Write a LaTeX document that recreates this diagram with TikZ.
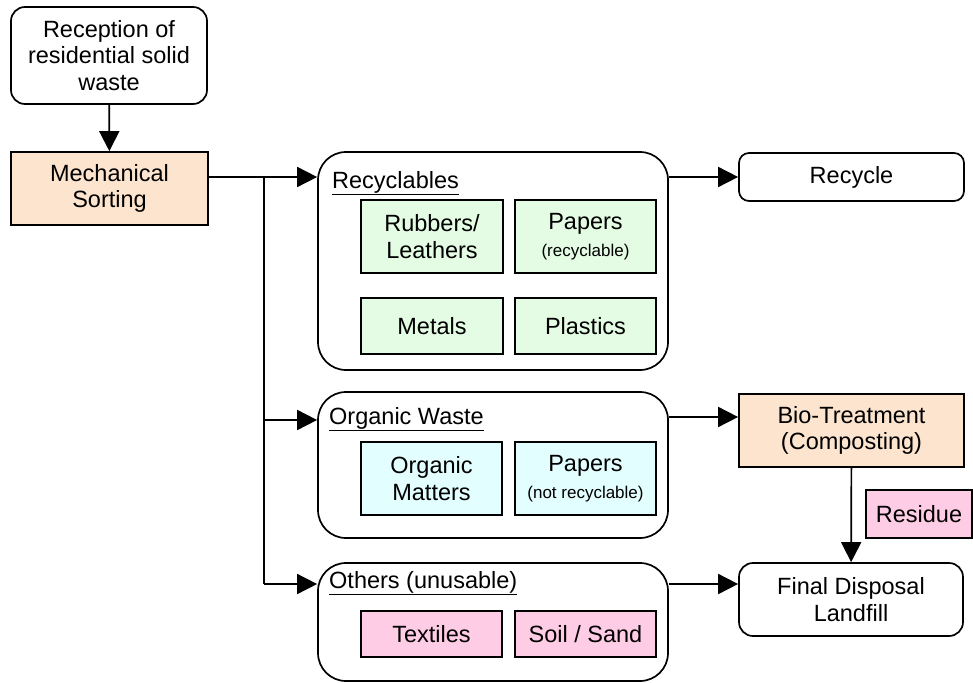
\documentclass[tikz,border=0pt]{standalone}
\usepackage{fontspec}
\setmainfont{Liberation Sans}
\usetikzlibrary{arrows.meta}
\definecolor{orangefill}{HTML}{FDE4CE}
\definecolor{greenfill}{HTML}{E4FCE4}
\definecolor{cyanfill}{HTML}{E2FEFE}
\definecolor{pinkfill}{HTML}{FFCCE6}
\tikzset{
  base/.style={draw=black, line width=1.7pt, inner sep=0pt, align=center,
    font=\fontsize{23.5}{26.5}\selectfont},
  roundbox/.style={base, rounded corners=#1},
  sqbox/.style={base, fill=#1},
  group/.style={draw=black, line width=1.7pt, rounded corners=28pt, inner sep=0pt},
  title/.style={anchor=base west, inner sep=0pt, font=\fontsize{23.5}{26.5}\selectfont},
  arr/.style={line width=1.7pt, -{Triangle[length=20pt,width=20pt]}},
  ln/.style={line width=1.7pt}
}
\newcommand{\smalltxt}[1]{{\fontsize{17}{20}\selectfont #1}}
\begin{document}
\begin{tikzpicture}[x=1pt,y=-1pt]
\useasboundingbox (0,0) rectangle (973,682);
% top-left chain
\node[roundbox=14pt, minimum width=196pt, minimum height=97pt] (recv) at (109,55.5)
  {Reception of\\residential solid\\waste};
\node[sqbox=orangefill, minimum width=197pt, minimum height=73pt] (mech) at (109.5,188.5)
  {Mechanical\\Sorting};
% group boxes
\node[group, minimum width=350pt, minimum height=218pt] (recg) at (493,261) {};
\node[group, minimum width=350pt, minimum height=146pt] (orgg) at (493,465) {};
\node[group, minimum width=350pt, minimum height=118pt] (othg) at (493,622) {};
\node[title] (rect) at (332,188) {\underline{Recyclables}};
\node[title] (orgt) at (329,424) {\underline{Organic Waste}};
\node[title] (otht) at (329,588) {\underline{Others (unusable)}};
% recyclables content
\node[sqbox=greenfill, minimum width=142pt, minimum height=73pt] (rub) at (432,236.5) {Rubbers/\\Leathers};
\node[sqbox=greenfill, minimum width=141pt, minimum height=73pt] (pap1) at (585.5,236.5) {Papers\\\smalltxt{(recyclable)}};
\node[sqbox=greenfill, minimum width=142pt, minimum height=56pt] (met) at (432,326) {Metals};
\node[sqbox=greenfill, minimum width=141pt, minimum height=56pt] (pla) at (585.5,326) {Plastics};
% organic content
\node[sqbox=cyanfill, minimum width=141pt, minimum height=73pt] (orm) at (431.5,478.5) {Organic\\Matters};
\node[sqbox=cyanfill, minimum width=141pt, minimum height=73pt] (pap2) at (585.5,478.5) {Papers\\\smalltxt{(not recyclable)}};
% others content
\node[sqbox=pinkfill, minimum width=141pt, minimum height=46pt] (tex) at (431.5,634) {Textiles};
\node[sqbox=pinkfill, minimum width=141pt, minimum height=46pt] (soil) at (585.5,634) {Soil / Sand};
% right column
\node[roundbox=10pt, minimum width=225pt, minimum height=48pt] (recy) at (851.5,177) {Recycle};
\node[sqbox=orangefill, minimum width=225pt, minimum height=73pt] (bio) at (851.5,430.5) {Bio-Treatment\\(Composting)};
\node[roundbox=14pt, minimum width=224pt, minimum height=73pt] (fin) at (851,599.5) {Final Disposal\\Landfill};
\node[sqbox=pinkfill, minimum width=106pt, minimum height=48pt] (res) at (919,514) {Residue};
% connectors
\draw[arr] (recv) -- (mech);
\coordinate (br) at (264,177);
\coordinate (bo) at (264,420);
\coordinate (bt) at (264,584);
\draw[ln] ([yshift=11.5pt]mech.east) -- (br);
\draw[arr] (br) -- (br -| recg.west);
\draw[ln] (br) -- (bt);
\draw[arr] (bo) -- (bo -| orgg.west);
\draw[arr] (bt) -- (bt -| othg.west);
\draw[arr] (br -| recg.east) -- (br -| recy.west);
\draw[arr] (orgg.east |- 0,417) -- (bio.west |- 0,417);
\draw[arr] (othg.east |- bt) -- (fin.west |- bt);
\draw[arr] (bio) -- (fin);
\end{tikzpicture}
\end{document}
